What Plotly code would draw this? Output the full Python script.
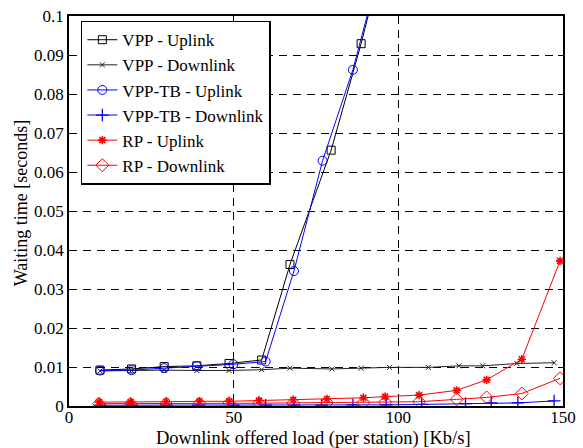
import plotly.graph_objects as go

# ---- data ----
vpp_up_x = [9.4, 19.0, 28.9, 38.8, 48.6, 58.5, 67.1, 79.6, 88.7, 98.0]
vpp_up_y = [0.0092, 0.0095, 0.0101, 0.0103, 0.0109, 0.0118, 0.0363, 0.0656, 0.0929, 0.124]

vpp_dn_x = [9.4, 19.0, 28.9, 38.8, 48.6, 58.5, 67.1, 79.8, 88.7, 97.3, 109.1, 118.4, 125.6, 136.0, 147.3]
vpp_dn_y = [0.0090, 0.0091, 0.0092, 0.0091, 0.0091, 0.0093, 0.0097, 0.0095, 0.0097, 0.0099, 0.0099, 0.0103, 0.0103, 0.0109, 0.0111]

tb_up_x = [9.4, 19.0, 28.9, 38.8, 49.9, 59.7, 68.3, 77.0, 86.2, 95.5]
tb_up_y = [0.0091, 0.0092, 0.0097, 0.0102, 0.0107, 0.0114, 0.0346, 0.0629, 0.0862, 0.116]

tb_dn_x = [9.4, 19.0, 29.5, 39.3, 49.9, 59.7, 68.3, 76.7, 86.2, 96.3, 107.1, 120.4, 128.2, 136.3, 147.3]
tb_dn_y = [0.0002, 0.0002, 0.0002, 0.0002, 0.0002, 0.0002, 0.0002, 0.0002, 0.0003, 0.0003, 0.0004, 0.0006, 0.0008, 0.0008, 0.0013]

rp_up_x = [9.1, 18.7, 29.5, 39.6, 48.6, 57.7, 68.1, 78.3, 89.4, 96.0, 106.3, 117.7, 126.8, 137.5, 149.1]
rp_up_y = [0.0010, 0.0010, 0.0011, 0.0012, 0.0012, 0.0014, 0.0016, 0.0018, 0.0021, 0.0024, 0.0028, 0.0040, 0.0067, 0.0120, 0.0372]

rp_dn_x = [9.1, 18.7, 29.5, 39.6, 48.6, 57.7, 68.1, 78.3, 89.4, 96.0, 106.3, 117.7, 126.8, 137.5, 149.1]
rp_dn_y = [0.0006, 0.0006, 0.0006, 0.0006, 0.0007, 0.0007, 0.0008, 0.0009, 0.0009, 0.0010, 0.0011, 0.0017, 0.0022, 0.0032, 0.0071]

x_ticks = [0, 50, 100, 150]
y_ticks = [0, 0.01, 0.02, 0.03, 0.04, 0.05, 0.06, 0.07, 0.08, 0.09, 0.1]
y_ticklabels = ["0", "0.01", "0.02", "0.03", "0.04", "0.05", "0.06", "0.07", "0.08", "0.09", "0.1"]

x_title = "Downlink offered load (per station) [Kb/s]"
y_title = "Waiting time [seconds]"

FONT = "Liberation Serif"

fig = go.Figure()

def add(x, y, name, color, symbol, size, mlw=1):
    fig.add_trace(go.Scatter(
        x=x, y=y, name=name, mode="lines+markers",
        line=dict(color=color, width=1),
        marker=dict(symbol=symbol, size=size, color=color,
                    line=dict(color=color, width=mlw)),
    ))

add(vpp_up_x, vpp_up_y, "VPP - Uplink", "black", "square-open", 8)
add(vpp_dn_x, vpp_dn_y, "VPP - Downlink", "#222222", "x-thin-open", 5)
add(tb_up_x, tb_up_y, "VPP-TB - Uplink", "#0000ff", "circle-open", 9)
add(tb_dn_x, tb_dn_y, "VPP-TB - Downlink", "#0000ff", "cross-thin-open", 9, 1.3)
add(rp_up_x, rp_up_y, "RP - Uplink", "#ff0000", "asterisk-open", 7, 1.6)
add(rp_dn_x, rp_dn_y, "RP - Downlink", "#ff0000", "diamond-open", 10)

axis_common = dict(
    showline=True, linecolor="black", linewidth=1.5, mirror="ticks",
    ticks="inside", ticklen=5, tickcolor="black", automargin=False,
    showgrid=True, gridcolor="black", gridwidth=1, griddash="8px,6px",
    zeroline=False, tickfont=dict(family=FONT, size=17, color="black"),
)

fig.update_layout(
    width=583, height=448,
    margin=dict(l=69, r=20, t=16, b=42),
    plot_bgcolor="white", paper_bgcolor="white",
    font=dict(family=FONT, size=17, color="black"),
    xaxis=dict(range=[0, 150], tickvals=x_ticks, ticklabelstandoff=-5, **axis_common),
    yaxis=dict(range=[0, 0.1], tickvals=y_ticks, ticktext=y_ticklabels, **axis_common),
    legend=dict(x=0.024, y=0.988, xanchor="left", yanchor="top",
                bgcolor="white", bordercolor="black", borderwidth=1.5,
                font=dict(family=FONT, size=17, color="black"),
                tracegroupgap=0, itemwidth=30),
    showlegend=True,
    annotations=[
        dict(text=x_title, xref="paper", yref="paper", x=0.494, y=-0.084,
             xanchor="center", yanchor="middle", showarrow=False,
             font=dict(family=FONT, size=18.5, color="black")),
        dict(text=y_title, xref="paper", yref="paper", x=-0.097, y=0.52,
             xanchor="center", yanchor="middle", showarrow=False, textangle=-90,
             font=dict(family=FONT, size=18, color="black")),
    ],
)

fig.write_html("out.html")
